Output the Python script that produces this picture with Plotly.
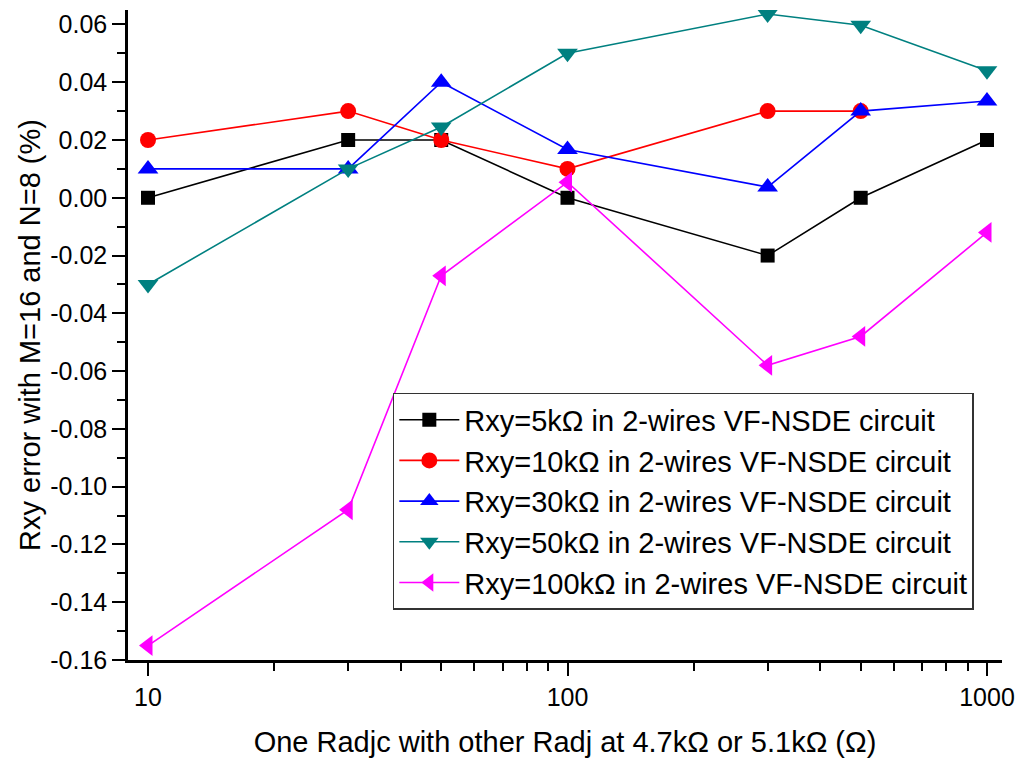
import plotly.graph_objects as go

x_vals = [10, 30, 50, 100, 300, 500, 1000]
r5k = [0.0, 0.02, 0.02, 0.0, -0.02, 0.0, 0.02]
r10k = [0.02, 0.03, 0.02, 0.01, 0.03, 0.03, None]
r30k = [0.01, 0.01, 0.04, 0.0167, 0.0037, 0.03, 0.0335]
r50k = [-0.03, 0.01, 0.0245, 0.05, 0.0636, 0.0597, 0.0440]
r100k = [-0.155, -0.108, -0.027, 0.0054, -0.058, -0.048, -0.012]

names = [
    "Rxy=5kΩ in 2-wires VF-NSDE circuit",
    "Rxy=10kΩ in 2-wires VF-NSDE circuit",
    "Rxy=30kΩ in 2-wires VF-NSDE circuit",
    "Rxy=50kΩ in 2-wires VF-NSDE circuit",
    "Rxy=100kΩ in 2-wires VF-NSDE circuit",
]
series = [r5k, r10k, r30k, r50k, r100k]
colors = ["#000000", "#FF0000", "#0000FF", "#008080", "#FF00FF"]
symbols = ["square", "circle", "triangle-up", "triangle-down", "triangle-left"]
sizes = [14, 16, 18, 18, 18]

x_tickvals = [10, 100, 1000]
x_ticktext = ["10", "100", "1000"]
x_minor = [20, 30, 40, 50, 60, 70, 80, 90, 200, 300, 400, 500, 600, 700, 800, 900]

y_tickvals = [0.06, 0.04, 0.02, 0.0, -0.02, -0.04, -0.06, -0.08, -0.10, -0.12, -0.14, -0.16]
y_ticktext = ["0.06", "0.04", "0.02", "0.00", "-0.02", "-0.04", "-0.06", "-0.08",
              "-0.10", "-0.12", "-0.14", "-0.16"]

fig = go.Figure()
for nm, ys, c, s, sz in zip(names, series, colors, symbols, sizes):
    fig.add_trace(go.Scatter(
        x=x_vals, y=ys, name=nm, mode="lines+markers",
        line=dict(color=c, width=1.6),
        marker=dict(symbol=s, size=sz, color=c, line=dict(width=0)),
        connectgaps=False,
    ))

font_family = "Liberation Sans, Arial, sans-serif"
fig.update_layout(
    width=1008, height=754,
    margin=dict(l=120, r=14, t=2, b=102),
    paper_bgcolor="white", plot_bgcolor="white",
    font=dict(family=font_family, color="black", size=25),
    showlegend=True,
    legend=dict(
        x=0.303, y=0.411, xanchor="left", yanchor="top",
        bgcolor="white", bordercolor="#333333", borderwidth=1.5,
        font=dict(size=29, family=font_family),
        itemwidth=60, tracegroupgap=0,
    ),
    xaxis=dict(
        type="log", range=[0.9523, 3.0358], automargin=False,
        tickmode="array", tickvals=x_tickvals, ticktext=x_ticktext,
        ticks="outside", ticklen=13, tickwidth=2, tickcolor="black",
        showline=True, linecolor="black", linewidth=2.5,
        showgrid=False, zeroline=False,
        tickfont=dict(size=25),
        minor=dict(tickmode="array", tickvals=x_minor, ticks="outside",
                   ticklen=8, tickwidth=2, tickcolor="black", showgrid=False),
        title=dict(text="One Radjc with other Radj at 4.7kΩ or 5.1kΩ (Ω)",
                   font=dict(size=29), standoff=22),
    ),
    yaxis=dict(
        range=[-0.16, 0.065], automargin=False,
        tickmode="array", tickvals=y_tickvals, ticktext=y_ticktext,
        ticks="outside", ticklen=13, tickwidth=2, tickcolor="black",
        showline=True, linecolor="black", linewidth=2.5,
        showgrid=False, zeroline=False,
        tickfont=dict(size=25),
        minor=dict(tick0=0, dtick=0.01, ticks="outside", ticklen=8, tickwidth=2,
                   tickcolor="black", showgrid=False),
        title=dict(text="Rxy error with M=16 and N=8 (%)",
                   font=dict(size=29), standoff=2),
    ),
)

fig.write_html("out.html")
